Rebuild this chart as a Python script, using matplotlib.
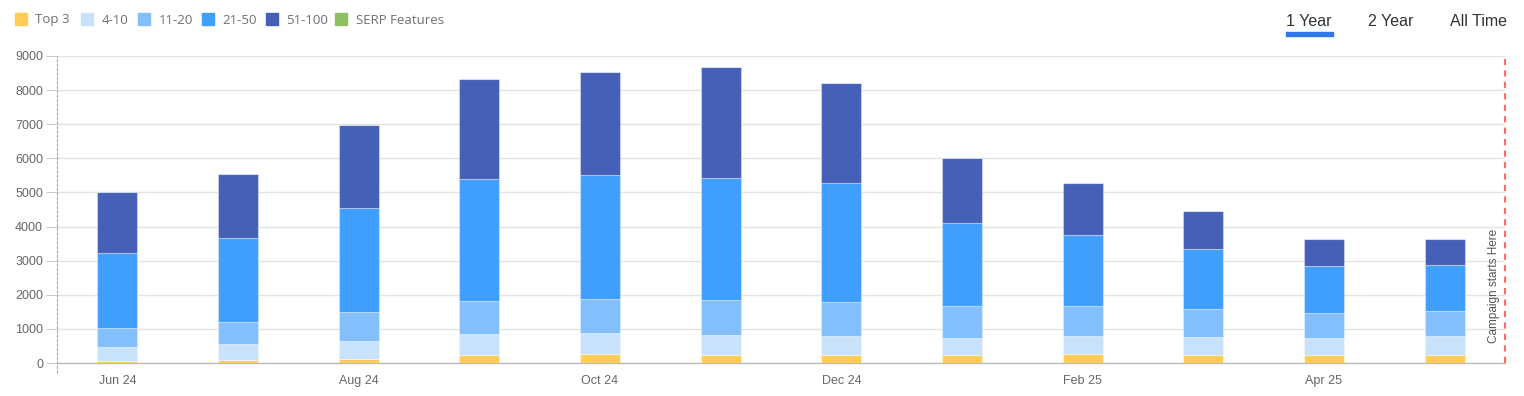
import matplotlib
matplotlib.use("Agg")
import matplotlib.pyplot as plt
from matplotlib.patches import Rectangle
from matplotlib.lines import Line2D
import numpy as np

months = ["Jun 24", "Jul 24", "Aug 24", "Sep 24", "Oct 24", "Nov 24",
          "Dec 24", "Jan 25", "Feb 25", "Mar 25", "Apr 25", "May 25"]
tick_labels = ["Jun 24", "", "Aug 24", "", "Oct 24", "", "Dec 24", "",
               "Feb 25", "", "Apr 25", ""]

top3 = [55, 75, 125, 225, 250, 225, 225, 225, 250, 225, 225, 225]
r4_10 = [420, 490, 530, 635, 635, 605, 575, 515, 550, 545, 515, 555]
r11_20 = [555, 635, 850, 965, 995, 1025, 995, 930, 870, 820, 735, 745]
r21_50 = [2190, 2460, 3035, 3565, 3625, 3575, 3475, 2430, 2080, 1750, 1375, 1350]
r51_100 = [1780, 1895, 2450, 2930, 3035, 3240, 2950, 1915, 1525, 1115, 780, 760]
serp = [0] * 12

series_names = ["Top 3", "4-10", "11-20", "21-50", "51-100", "SERP Features"]
series_vals = [top3, r4_10, r11_20, r21_50, r51_100, serp]
colors = ["#FFCC55", "#C8E2FB", "#82BFFC", "#409FFD", "#4560B6", "#8FBF63"]

W, H = 1524, 396
fig = plt.figure(figsize=(W / 100, H / 100), dpi=100)
ax = fig.add_axes([57 / W, (H - 363) / H, (1505 - 57) / W, (363 - 56) / H])

x = np.arange(len(months))
bottom = np.zeros(len(months))
for name, vals, c in zip(series_names, series_vals, colors):
    v = np.array(vals, dtype=float)
    ax.bar(x, v, width=0.33, bottom=bottom, color=c,
           edgecolor=(1, 1, 1, 0.35), linewidth=0.8, zorder=3)
    bottom += v

ax.set_xlim(-0.5, 11.5)
ax.set_ylim(0, 9000)
ax.set_yticks(np.arange(0, 9001, 1000))
ax.set_yticklabels([str(v) for v in range(0, 9001, 1000)],
                   fontsize=9, color="#666666", family="Liberation Sans")
ax.set_xticks(x)
ax.set_xticklabels(tick_labels, fontsize=9, color="#666666", family="Liberation Sans")
for lbl in ax.get_xticklabels():
    lbl.set_verticalalignment("baseline")
ax.tick_params(axis="x", length=0, pad=15)
ax.tick_params(axis="y", length=8, color="#CCCCCC", pad=2)
ax.grid(axis="y", color="#E3E3E3", linewidth=1, zorder=0)
for s in ["top", "right", "left"]:
    ax.spines[s].set_visible(False)
ax.spines["bottom"].set_color("#BBBBBB")
ax.spines["bottom"].set_linewidth(1)

# left axis line (dashed light gray), extending slightly below
ax.add_line(Line2D([0, 0], [-10 / 307, 1], transform=ax.transAxes,
                   color="#AAAAAA", linewidth=0.8, linestyle=(0, (3, 1)),
                   clip_on=False, zorder=4))

# campaign marker
ax.axvline(11.5, color="#FF6B6B", linewidth=1.5, linestyle=(0, (3, 2.5)), zorder=5,
           clip_on=False)
ax.text(11.41, 590, "Campaign starts Here", rotation=90, ha="center", va="bottom",
        fontsize=8.5, color="#555555", family="Liberation Sans", zorder=6)

# legend at top-left
leg_sq_x = [15, 81, 138, 202, 266, 335]
leg_txt_x = [35, 102, 159, 222, 286, 356]
for sx, tx, name, c in zip(leg_sq_x, leg_txt_x, series_names, colors):
    fig.patches.append(Rectangle((sx / W, 1 - 25 / H), 12 / W, 12 / H,
                                 transform=fig.transFigure, color=c))
    fig.text(tx / W, 1 - 20 / H, name, fontsize=9.5, color="#707070",
             va="center", ha="left", family="Open Sans")

# period selector
fig.text(1286 / W, 1 - 22 / H, "1 Year", fontsize=11.5, color="#333333",
         va="center", ha="left", family="Liberation Sans")
fig.text(1368 / W, 1 - 22 / H, "2 Year", fontsize=11.5, color="#333333",
         va="center", ha="left", family="Liberation Sans")
fig.text(1450 / W, 1 - 22 / H, "All Time", fontsize=11.5, color="#333333",
         va="center", ha="left", family="Liberation Sans")
fig.patches.append(Rectangle((1286 / W, 1 - 36 / H), 47 / W, 3.5 / H,
                             transform=fig.transFigure, color="#2F78E8"))

fig.savefig("out.png", dpi=100)
